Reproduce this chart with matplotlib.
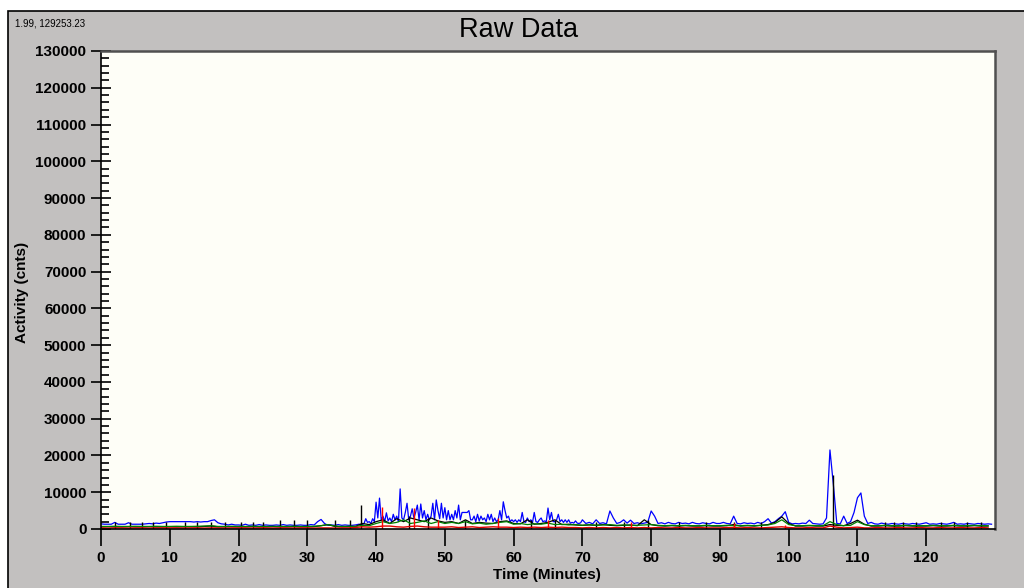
import numpy as np
import matplotlib.pyplot as plt
from matplotlib.patches import Rectangle
from matplotlib.ticker import MultipleLocator

# blue channel: 0-37.5 min every 0.5 min
blue_a = [
    1400, 1300, 1300, 1300, 1800, 1300, 1300, 1300, 1700, 1300, 1300, 1300, 1300, 1400, 1500, 1400, 1600, 1500, 1700, 1900,
    2000, 2000, 2000, 2000, 2000, 2000, 2000, 1900, 2000, 1900, 2000, 2000, 2300, 2500, 1700, 1400, 1300, 1100, 1300, 1100,
    1100, 1000, 1300, 1000, 1100, 1000, 1200, 1000, 1100, 1000, 1000, 1100, 1000, 1200, 1000, 1100, 1000, 1000, 1100, 1000,
    1000, 1200, 1100, 2000, 2600, 1500, 1000, 1100, 1000, 1200, 1000, 1100, 1000, 1000, 1100, 1300,
]
# 38-69.75 min every 0.25 min (busy part)
blue_b = [
    1200, 1500, 2800, 1800, 2000, 1500, 2800, 2000,
    7300, 3000, 8400, 2500, 3500, 2000, 4400, 2200,
    3000, 2000, 4000, 2500, 3500, 2000, 10900, 3000,
    2500, 4500, 7000, 2500, 3500, 5500, 3000, 4500,
    6500, 2500, 6800, 3000, 5000, 2500, 4000, 2500,
    3500, 7000, 2500, 7900, 5000, 2800, 7000, 3000,
    5800, 2500, 5000, 2500, 4000, 2500, 5000, 3000,
    6500, 2500, 4500, 4500, 4500, 4500, 5000, 2500,
    2500, 3500, 2000, 4000, 2200, 3500, 2500, 3000,
    2000, 4000, 2500, 4000, 2000, 3000, 2000, 2500,
    5000, 2500, 7400, 5000, 3000, 3500, 2000, 2500,
    2000, 2500, 1800, 2500, 2000, 4500, 2000, 1800,
    3000, 2000, 2500, 1800, 4500, 2000, 1800, 2500,
    3000, 2000, 2200, 2000, 5700, 2500, 4500, 2000,
    2000, 2500, 4000, 2000, 2500, 1800, 2500, 1800,
    2500, 1600, 1800, 1600, 2200, 1600, 1500, 1700,
]
# 70-129.5 min every 0.5 min
blue_c = [
    2500, 1500, 1800, 1400, 2500, 1500, 1700, 1400, 4900, 3000, 1500, 1800, 2500, 1600, 2400, 1500, 1700, 1400, 1600, 1800,
    4900, 3500, 1500, 1700, 1400, 1800, 1500, 1400, 1800, 1500, 1600, 1400, 1800, 1500, 1400, 1700, 1500, 1400, 1800, 1500,
    1500, 1800, 1500, 1400, 3500, 1500, 1400, 1700, 1500, 1600, 1400, 1800, 1500, 2000, 2800, 1600, 2000, 2800, 3500, 4700,
    1800, 1400, 1500, 1400, 1600, 1500, 2400, 1500, 1400, 1300, 1400, 3000, 21500, 12000, 1500, 1400, 3500, 1500, 2000, 4500,
    8500, 9800, 3500, 1500, 1800, 1400, 1300, 1600, 1400, 1300, 1500, 1400, 1300, 1500, 1400, 1300, 1500, 1400, 1300, 1500,
    1700, 1300, 1400, 1300, 1500, 1400, 1300, 1500, 1800, 1300, 1400, 1300, 1500, 1400, 1300, 1500, 1400, 1300, 1400, 1300,
]

# other channels, every 1 min
black = [
    600, 650, 600, 600, 650, 600, 600, 650, 600, 600,
    650, 600, 600, 650, 600, 700, 800, 600, 600, 650,
    600, 600, 650, 600, 600, 650, 600, 600, 650, 600,
    600, 650, 900, 1200, 700, 600, 650, 700, 1500, 1200,
    2000, 2500, 1500, 2800, 2000, 3000, 2500, 2000, 3000, 2200,
    1800, 2000, 1500, 2500, 1500, 1800, 1600, 1500, 2000, 2200,
    1500, 1400, 2500, 1300, 1500, 1800, 2500, 1200, 1300, 1100,
    1000, 1100, 1000, 1200, 1000, 900, 1000, 1100, 900, 2500,
    1200, 900, 800, 900, 800, 900, 800, 800, 900, 800,
    800, 900, 1200, 800, 900, 800, 1000, 1200, 1800, 3300,
    1500, 800, 800, 900, 800, 800, 1200, 1000, 900, 1500,
    2400, 1300, 800, 800, 900, 800, 800, 900, 800, 800,
    800, 900, 800, 800, 900, 800, 800, 900, 800, 800,
]
green = [
    700, 700, 750, 700, 700, 750, 700, 700, 750, 700,
    700, 750, 700, 700, 750, 800, 900, 700, 700, 750,
    700, 700, 750, 700, 700, 750, 700, 700, 750, 700,
    700, 750, 900, 1200, 800, 700, 750, 700, 1000, 900,
    1500, 2000, 1500, 1800, 2500, 1500, 1800, 2200, 1500, 2000,
    1500, 1800, 1500, 2000, 1400, 1600, 1300, 1500, 1800, 2000,
    1300, 1500, 1200, 1400, 1300, 1600, 1200, 1300, 1100, 1200,
    1000, 1200, 1000, 1100, 1200, 1000, 1100, 1000, 1000, 1100,
    1200, 1000, 900, 1000, 900, 1000, 900, 900, 1000, 900,
    900, 1000, 900, 900, 1000, 900, 1000, 1100, 1500, 2500,
    1200, 900, 900, 1000, 900, 900, 2000, 1200, 900, 1000,
    2000, 1200, 900, 900, 1000, 900, 900, 1000, 900, 900,
    900, 1000, 900, 900, 1000, 900, 900, 1000, 900, 900,
]
red = [
    300, 250, 300, 300, 250, 300, 300, 250, 300, 300,
    300, 300, 250, 300, 300, 250, 300, 300, 250, 300,
    300, 300, 250, 300, 300, 250, 300, 300, 250, 300,
    300, 250, 300, 300, 250, 300, 300, 400, 600, 500,
    600, 800, 800, 600, 500, 700, 800, 600, 500, 500,
    500, 600, 400, 500, 600, 400, 500, 600, 500, 500,
    400, 500, 400, 500, 400, 500, 400, 500, 400, 400,
    300, 400, 300, 400, 300, 400, 300, 400, 300, 400,
    300, 400, 300, 300, 400, 300, 300, 400, 300, 300,
    300, 400, 400, 300, 400, 300, 300, 400, 500, 600,
    400, 300, 300, 400, 300, 300, 800, 500, 300, 400,
    500, 300, 300, 400, 300, 300, 400, 300, 300, 400,
    300, 300, 400, 300, 300, 400, 300, 300, 400, 300,
]

# narrow spikes
black_spike_t = [2.1, 4.2, 5.9, 7.6, 9.4, 12.2, 13.9, 16.0, 18.0, 20.4, 22.1, 23.5, 26.0, 28.0, 30.0,
                 34.0, 36.2, 37.8, 44.8, 47.5, 53.0, 62.5, 66.0, 72.0, 76.0, 79.5, 84.0, 88.0, 92.0,
                 96.0, 106.4, 114.0, 115.3, 116.6, 118.5, 122.2, 124.1, 126.0, 128.0]
black_spike_h = [2000, 2000, 1900, 2000, 2000, 1900, 2000, 2000, 1900, 2000, 2000, 2000, 2400, 2400, 2400,
                 2400, 2400, 6500, 3500, 3000, 2500, 2500, 2500, 2000, 2000, 2500, 2000, 2000, 2000,
                 2000, 14700, 2000, 2000, 2000, 2000, 2000, 2000, 2000, 2000]
red_spike_t = [40.8, 45.5, 49.0, 57.7, 65.0, 77.0, 92.0, 99.5]
red_spike_h = [6000, 5800, 2500, 3000, 2500, 2000, 1500, 1200]

t_blue = np.concatenate([np.arange(0, 38, 0.5), np.arange(38, 70, 0.25), np.arange(70, 130, 0.5)])
blue = blue_a + blue_b + blue_c
t_min = np.arange(0, 130, 1)

fig = plt.figure(figsize=(10.24, 5.88), dpi=100)
fig.patches.append(Rectangle((8 / 1024, -0.01), 1.0, (577 / 588) + 0.01, transform=fig.transFigure,
                             facecolor='#c2c0bf', edgecolor='black', lw=1.2, zorder=-1))

ax = fig.add_axes([101 / 1024, 1 - 529 / 588, 894 / 1024, 478 / 588])
ax.set_facecolor('#fefef7')

ax.plot(t_blue, blue, color='#0000ff', lw=0.9)
ax.plot(t_min, black, color='black', lw=0.9)
ax.vlines(black_spike_t, 0, black_spike_h, color='black', lw=1.0)
ax.plot(t_min, green, color='#008000', lw=0.9)
ax.plot(t_min, red, color='#e00000', lw=1.0)
ax.vlines(red_spike_t, 0, red_spike_h, color='#ff0000', lw=1.0)

ax.set_xlim(0, 130)
ax.set_ylim(0, 130000)
ax.yaxis.set_minor_locator(MultipleLocator(2000))

lab = dict(family='Liberation Sans', weight='bold', size=11)
ax.set_xticks(np.arange(0, 130, 10))
ax.set_xticklabels([str(v) for v in range(0, 130, 10)], **lab)
ax.set_yticks(np.arange(0, 130001, 10000))
ax.set_yticklabels([str(v) for v in range(0, 130001, 10000)], **lab)

ax.tick_params(axis='y', which='major', direction='inout', length=15, width=1.2, pad=3)
ax.tick_params(axis='y', which='minor', direction='in', length=6, width=1.2)
ax.tick_params(axis='x', which='major', direction='out', length=12, width=1.2, pad=4)

for s in ['left', 'bottom']:
    ax.spines[s].set_color('black')
    ax.spines[s].set_linewidth(1.2)
for s in ['top', 'right']:
    ax.spines[s].set_color('#505050')
    ax.spines[s].set_linewidth(1.8)

fig.text(0.506, 1 - 30 / 588, 'Raw Data', family='Liberation Sans', size=19.5, ha='center', va='center')
fig.text(15 / 1024, 1 - 23 / 588, '1.99, 129253.23', family='Liberation Sans', size=7, ha='left', va='center')
fig.text(547 / 1024, 1 - 575 / 588, 'Time (Minutes)', ha='center', va='center', **lab)
fig.text(22 / 1024, 1 - 292 / 588, 'Activity (cnts)', ha='center', va='center', rotation=90, **lab)

fig.savefig('out.png', dpi=100)
